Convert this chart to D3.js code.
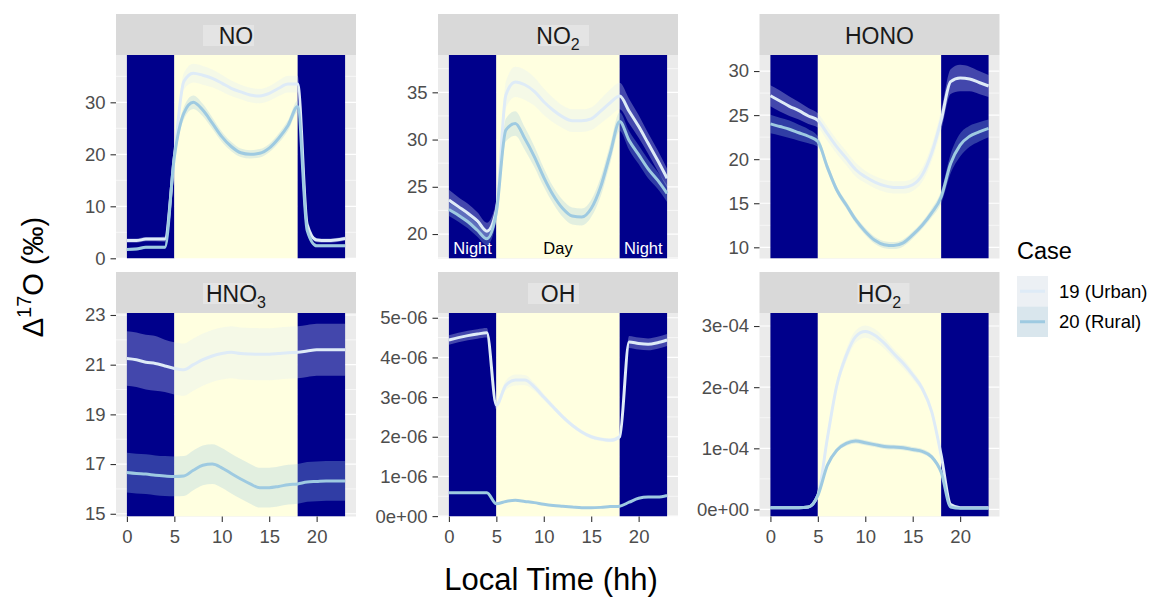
<!DOCTYPE html>
<html><head><meta charset="utf-8">
<script src="https://cdn.jsdelivr.net/npm/d3@7"></script>
<style>
body{margin:0;background:#fff;}
svg{display:block;font-family:"Liberation Sans",Arial,Helvetica,sans-serif;}
</style>
</head><body>
<svg id="chart" width="1150" height="598"></svg>
<script>
// ---------------- DATA ----------------
const hours = d3.range(0, 24);
const caseLabels = ["19 (Urban)", "20 (Rural)"];
const caseColors = ["#DEEBF7", "#9ECAE1"];
const periods = [
  {name: "Night", start: 0, end: 5},
  {name: "Day", start: 5, end: 18},
  {name: "Night", start: 18, end: 23}
];
const xTicks = [0, 5, 10, 15, 20];

// NO
const noUrban = [3.4,3.4,3.7,3.7,3.7,19.5,34,35.6,35.2,34.6,33.7,32.7,32,31.4,31.2,31.7,32.7,33.5,33.5,6.5,3.5,3.4,3.5,3.8];
const noRural = [1.7,1.8,2.1,2.1,2.1,19.5,27.9,30,28.5,26,23.4,21.5,20.3,20,20.2,21.2,23.1,25.6,29.2,5.4,2.4,2.4,2.4,2.4];
const noUrbanHW = [0.4,0.4,0.4,0.4,0.5,1.0,1.6,1.8,1.8,1.7,1.6,1.5,1.4,1.4,1.4,1.4,1.5,1.6,1.6,0.6,0.4,0.4,0.4,0.4];
const noRuralHW = [0.3,0.3,0.3,0.3,0.3,0.8,1.2,1.3,1.2,1.1,1.0,0.9,0.8,0.8,0.8,0.8,0.9,1.0,1.1,0.4,0.3,0.3,0.3,0.3];
const noTicks = [0, 10, 20, 30];
const noTickLabels = ["0", "10", "20", "30"];

// NO2
const no2Urban = [23.6,22.9,22.2,21.4,20.3,22.5,34.7,36.1,35.8,35.1,34,33.1,32.4,32,32,32.2,33,33.9,34.6,33,31.4,29.6,27.8,25.9];
const no2Rural = [22.6,22,21.3,20.4,19.5,22.3,31,31.7,30.1,28.2,26,24.1,22.7,21.9,21.8,22.7,25,28.5,31.9,29.9,28.4,26.9,25.7,24.3];
const no2UrbanHW = [1.1,1.0,1.0,0.9,0.9,1.0,1.4,1.6,1.6,1.5,1.4,1.3,1.2,1.2,1.2,1.2,1.3,1.4,1.4,1.3,1.2,1.1,1.1,1.0];
const no2RuralHW = [0.7,0.7,0.7,0.7,0.7,0.9,1.2,1.3,1.2,1.1,1.0,0.9,0.9,0.9,0.9,0.9,1.0,1.0,1.0,1.0,1.0,1.0,0.9,0.9];
const no2Ticks = [20, 25, 30, 35];
const no2TickLabels = ["20", "25", "30", "35"];

// HONO
const honoUrban = [27.2,26.6,26,25.5,24.9,24.4,22.9,21.4,20.1,18.8,18,17.4,17,16.8,16.8,17.1,18.2,20.7,24.4,28.8,29.2,29.1,28.7,28.3];
const honoRural = [24,23.7,23.4,23,22.6,22,19.1,16.5,14.8,13.1,11.8,10.8,10.3,10.2,10.5,11.4,12.5,13.9,15.7,19.5,21.6,22.6,23.1,23.5];
const honoUrbanHW = [1.2,1.2,1.1,1.0,0.9,0.8,0.8,0.8,0.8,0.8,0.7,0.7,0.7,0.7,0.7,0.7,0.8,0.9,1.1,1.4,1.5,1.4,1.3,1.25];
const honoRuralHW = [1.05,1.0,1.0,0.9,0.8,0.6,0.5,0.4,0.4,0.4,0.4,0.4,0.4,0.4,0.4,0.4,0.4,0.5,0.7,1.1,1.3,1.2,1.1,1.0];
const honoTicks = [10, 15, 20, 25, 30];
const honoTickLabels = ["10", "15", "20", "25", "30"];

// HNO3
const hno3Urban = [21.25,21.2,21.1,21.05,20.95,20.85,20.8,21.0,21.2,21.35,21.45,21.5,21.45,21.43,21.42,21.42,21.45,21.48,21.5,21.55,21.6,21.6,21.6,21.6];
const hno3Rural = [16.66,16.62,16.6,16.55,16.52,16.5,16.52,16.75,16.95,17.0,16.85,16.62,16.4,16.2,16.05,16.05,16.1,16.17,16.2,16.28,16.3,16.32,16.32,16.32];
const hno3UrbanHW = [1.1,1.1,1.1,1.1,1.05,1.05,1.05,1.05,1.05,1.05,1.05,1.05,1.05,1.05,1.05,1.05,1.05,1.05,1.05,1.05,1.05,1.05,1.05,1.05];
const hno3RuralHW = [0.8,0.8,0.8,0.8,0.8,0.8,0.8,0.8,0.8,0.8,0.8,0.8,0.8,0.8,0.8,0.8,0.8,0.8,0.8,0.8,0.8,0.8,0.8,0.8];
const hno3Ticks = [15, 17, 19, 21, 23];
const hno3TickLabels = ["15", "17", "19", "21", "23"];

// OH
const ohUrban = [4.44e-6,4.5e-6,4.55e-6,4.59e-6,4.62e-6,2.8e-6,3.3e-6,3.43e-6,3.43e-6,3.26e-6,3.0e-6,2.75e-6,2.5e-6,2.29e-6,2.12e-6,2.0e-6,1.94e-6,1.91e-6,2.0e-6,4.39e-6,4.35e-6,4.33e-6,4.37e-6,4.44e-6];
const ohRural = [0.59e-6,0.59e-6,0.59e-6,0.59e-6,0.59e-6,0.31e-6,0.37e-6,0.4e-6,0.37e-6,0.34e-6,0.3e-6,0.27e-6,0.25e-6,0.23e-6,0.21e-6,0.21e-6,0.22e-6,0.24e-6,0.25e-6,0.35e-6,0.45e-6,0.48e-6,0.48e-6,0.52e-6];
const ohUrbanHW = [0.12e-6,0.12e-6,0.12e-6,0.12e-6,0.12e-6,0.1e-6,0.12e-6,0.14e-6,0.13e-6,0.1e-6,0.08e-6,0.07e-6,0.06e-6,0.05e-6,0.05e-6,0.05e-6,0.05e-6,0.05e-6,0.05e-6,0.15e-6,0.15e-6,0.15e-6,0.15e-6,0.15e-6];
const ohRuralHW = [0.02e-6,0.02e-6,0.02e-6,0.02e-6,0.02e-6,0.02e-6,0.02e-6,0.02e-6,0.02e-6,0.02e-6,0.02e-6,0.02e-6,0.02e-6,0.02e-6,0.02e-6,0.02e-6,0.02e-6,0.02e-6,0.02e-6,0.02e-6,0.02e-6,0.02e-6,0.02e-6,0.02e-6];
const ohTicks = [0, 1e-6, 2e-6, 3e-6, 4e-6, 5e-6];
const ohTickLabels = ["0e+00", "1e-06", "2e-06", "3e-06", "4e-06", "5e-06"];

// HO2
const ho2Urban = [0.03e-4,0.03e-4,0.03e-4,0.03e-4,0.04e-4,0.23e-4,1.16e-4,2.03e-4,2.52e-4,2.83e-4,2.91e-4,2.85e-4,2.72e-4,2.55e-4,2.39e-4,2.2e-4,1.98e-4,1.6e-4,0.89e-4,0.08e-4,0.03e-4,0.03e-4,0.03e-4,0.03e-4];
const ho2Rural = [0.03e-4,0.03e-4,0.03e-4,0.03e-4,0.04e-4,0.23e-4,0.72e-4,0.97e-4,1.08e-4,1.12e-4,1.09e-4,1.06e-4,1.03e-4,1.02e-4,1.01e-4,0.98e-4,0.95e-4,0.86e-4,0.61e-4,0.04e-4,0.02e-4,0.02e-4,0.02e-4,0.02e-4];
const ho2UrbanHW = [0.01e-4,0.01e-4,0.01e-4,0.01e-4,0.01e-4,0.02e-4,0.05e-4,0.08e-4,0.1e-4,0.1e-4,0.1e-4,0.1e-4,0.09e-4,0.08e-4,0.08e-4,0.07e-4,0.06e-4,0.05e-4,0.04e-4,0.01e-4,0.01e-4,0.01e-4,0.01e-4,0.01e-4];
const ho2RuralHW = [0.01e-4,0.01e-4,0.01e-4,0.01e-4,0.01e-4,0.02e-4,0.03e-4,0.04e-4,0.04e-4,0.04e-4,0.04e-4,0.04e-4,0.04e-4,0.04e-4,0.04e-4,0.04e-4,0.04e-4,0.04e-4,0.03e-4,0.01e-4,0.01e-4,0.01e-4,0.01e-4,0.01e-4];
const ho2Ticks = [0, 1e-4, 2e-4, 3e-4];
const ho2TickLabels = ["0e+00", "1e-04", "2e-04", "3e-04"];

// ---------------- PANELS ----------------
const panels = [
  {main: "NO",   sub: "",  series: [[noUrban, noUrbanHW], [noRural, noRuralHW]],       ticks: noTicks,   labels: noTickLabels,   domain: [-0.04, 39.1],  box: [-33, 18]},
  {main: "NO",   sub: "2", series: [[no2Urban, no2UrbanHW], [no2Rural, no2RuralHW]],   ticks: no2Ticks,  labels: no2TickLabels,  domain: [17.41, 38.95], box: [-20, 31], periodText: true},
  {main: "HONO", sub: "",  series: [[honoUrban, honoUrbanHW], [honoRural, honoRuralHW]], ticks: honoTicks, labels: honoTickLabels, domain: [8.73, 31.82],  box: null},
  {main: "HNO",  sub: "3", series: [[hno3Urban, hno3UrbanHW], [hno3Rural, hno3RuralHW]], ticks: hno3Ticks, labels: hno3TickLabels, domain: [14.89, 23.08], box: [-33, 17]},
  {main: "OH",   sub: "",  series: [[ohUrban, ohUrbanHW], [ohRural, ohRuralHW]],       ticks: ohTicks,   labels: ohTickLabels,   domain: [-0.01e-6, 5.12e-6], box: [-30, 21]},
  {main: "HO",   sub: "2", series: [[ho2Urban, ho2UrbanHW], [ho2Rural, ho2RuralHW]],   ticks: ho2Ticks,  labels: ho2TickLabels,  domain: [-0.115e-4, 3.213e-4], box: [-22, 30]}
];

// ---------------- LAYOUT ----------------
const svg = d3.select("#chart");
const colX = [116, 438, 759.5];
const rowY = [14, 272];
const stripH = 41, panelW = 240, panelH = 203.5;
const nightFill = "#00008B", dayFill = "#FFFFE0";

panels.forEach((p, i) => {
  const col = i % 3, row = Math.floor(i / 3);
  const left = colX[col], stripTop = rowY[row];
  const top = stripTop + stripH, bottom = top + panelH;
  const x = d3.scaleLinear().domain([-1.15, 24.15]).range([left, left + panelW]);
  const y = d3.scaleLinear().domain(p.domain).range([bottom, top]);
  const g = svg.append("g");

  g.append("rect").attr("x", left).attr("y", top).attr("width", panelW).attr("height", panelH).attr("fill", "#EBEBEB");

  // grid lines
  const step = p.ticks[1] - p.ticks[0];
  const minors = d3.range(p.ticks[0] - step / 2, p.ticks[p.ticks.length - 1] + step, step)
    .filter(v => v >= p.domain[0] && v <= p.domain[1]);
  g.selectAll(".minor").data(minors).join("line")
    .attr("x1", left).attr("x2", left + panelW)
    .attr("y1", d => y(d)).attr("y2", d => y(d))
    .attr("stroke", "#fff").attr("stroke-width", 0.6);
  g.selectAll(".major").data(p.ticks).join("line")
    .attr("x1", left).attr("x2", left + panelW)
    .attr("y1", d => y(d)).attr("y2", d => y(d))
    .attr("stroke", "#fff").attr("stroke-width", 1.2);

  const clipId = "clip" + i;
  svg.append("clipPath").attr("id", clipId).append("rect")
    .attr("x", left).attr("y", top).attr("width", panelW).attr("height", panelH);
  const pg = g.append("g").attr("clip-path", `url(#${clipId})`);

  // day / night rectangles
  pg.selectAll(".period").data(periods).join("rect")
    .attr("x", d => x(d.start)).attr("width", d => x(d.end) - x(d.start))
    .attr("y", top).attr("height", panelH)
    .attr("fill", d => d.name === "Day" ? dayFill : nightFill);

  // ribbons then lines
  const area = d3.area().x(d => x(d.h)).y0(d => y(d.v - d.hw)).y1(d => y(d.v + d.hw)).curve(d3.curveMonotoneX);
  const line = d3.line().x(d => x(d.h)).y(d => y(d.v)).curve(d3.curveMonotoneX);
  const seriesData = p.series.map(([vals, hw]) => hours.map(h => ({h, v: vals[h], hw: hw[h]})));
  seriesData.forEach((sd, k) => {
    pg.append("path").attr("d", area(sd)).attr("fill", caseColors[k]).attr("fill-opacity", 0.3);
  });
  seriesData.forEach((sd, k) => {
    pg.append("path").attr("d", line(sd)).attr("fill", "none").attr("stroke", caseColors[k])
      .attr("stroke-width", 3).attr("stroke-linejoin", "round");
  });

  if (p.periodText) {
    pg.selectAll(".ptext").data(periods).join("text")
      .attr("x", d => x((d.start + d.end) / 2))
      .attr("y", bottom - 5)
      .attr("text-anchor", "middle")
      .attr("font-size", "16.5px")
      .attr("fill", d => d.name === "Day" ? "#000" : "#fff")
      .text(d => d.name);
  }

  // strip
  g.append("rect").attr("x", left).attr("y", stripTop).attr("width", panelW).attr("height", stripH).attr("fill", "#D9D9D9");
  const cx = left + panelW / 2;
  if (p.box) {
    g.append("rect").attr("x", cx + p.box[0]).attr("y", stripTop + 11)
      .attr("width", p.box[1] - p.box[0]).attr("height", 21).attr("fill", "#E4E4E4");
  }
  const st = g.append("text").attr("x", cx).attr("y", stripTop + stripH / 2 + 9.2)
    .attr("text-anchor", "middle").attr("font-size", "23px").attr("fill", "#1A1A1A");
  st.append("tspan").text(p.main);
  if (p.sub) st.append("tspan").attr("font-size", "16px").attr("dy", "6px").text(p.sub);

  // y axis
  const ya = g.append("g").attr("transform", `translate(${left},0)`)
    .call(d3.axisLeft(y).tickValues(p.ticks).tickFormat((d, k) => p.labels[k]).tickSize(5.5).tickPadding(5));
  ya.select(".domain").remove();
  ya.selectAll(".tick line").attr("stroke", "#333333").attr("stroke-width", 1.1);
  ya.selectAll(".tick text").attr("fill", "#4D4D4D").attr("font-size", "18.5px").attr("font-family", null);

  // x axis (bottom row)
  if (row === 1) {
    const xa = g.append("g").attr("transform", `translate(0,${bottom})`)
      .call(d3.axisBottom(x).tickValues(xTicks).tickSize(5.5).tickPadding(8));
    xa.select(".domain").remove();
    xa.selectAll(".tick line").attr("stroke", "#333333").attr("stroke-width", 1.1);
    xa.selectAll(".tick text").attr("fill", "#4D4D4D").attr("font-size", "18.5px").attr("font-family", null);
  }
});

// axis titles
svg.append("text").attr("x", 551).attr("y", 590).attr("text-anchor", "middle")
  .attr("font-size", "31px").attr("fill", "#000").text("Local Time (hh)");
const yt = svg.append("text").attr("transform", "translate(43,277) rotate(-90)")
  .attr("text-anchor", "middle").attr("font-size", "29px").attr("fill", "#000");
yt.append("tspan").text("Δ");
yt.append("tspan").attr("font-size", "20px").attr("dy", "-12px").text("17");
yt.append("tspan").attr("dy", "12px").text("O (‰)");

// legend
const lg = svg.append("g");
lg.append("text").attr("x", 1017).attr("y", 259).attr("font-size", "23.5px").attr("fill", "#000").text("Case");
caseLabels.forEach((lab, k) => {
  const ky = 276 + k * 30.5;
  lg.append("rect").attr("x", 1017).attr("y", ky).attr("width", 31).attr("height", 30.5)
    .attr("fill", "#F2F2F2");
  lg.append("rect").attr("x", 1017).attr("y", ky).attr("width", 31).attr("height", 30.5)
    .attr("fill", caseColors[k]).attr("fill-opacity", 0.3);
  lg.append("line").attr("x1", 1020).attr("x2", 1045).attr("y1", ky + 15.25).attr("y2", ky + 15.25)
    .attr("stroke", caseColors[k]).attr("stroke-width", 3);
  lg.append("text").attr("x", 1059).attr("y", ky + 15.25).attr("dy", "0.35em")
    .attr("font-size", "18.5px").attr("fill", "#000").text(lab);
});
</script>
</body></html>
